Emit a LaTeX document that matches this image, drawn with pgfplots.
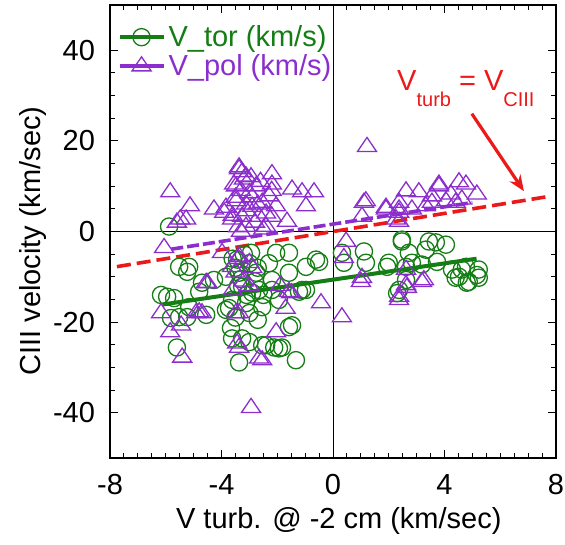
\documentclass[border=0pt]{standalone}
\usepackage{pgfplots}
\pgfplotsset{compat=1.18}
\usetikzlibrary{arrows.meta}
\usepackage{fontspec}
\setmainfont{Liberation Sans}
\definecolor{torc}{RGB}{20,125,20}
\definecolor{polc}{RGB}{140,45,205}
\definecolor{redc}{RGB}{235,25,25}

\pgfplotstableread{
x y
-5.88 1.1
-5.52 -7.8
-5.16 -7.8
-5.23 -8.9
-6.17 -14.0
-5.95 -14.4
-5.70 -14.7
-4.70 -11.3
-4.27 -10.7
-3.84 -10.0
-3.44 -6.2
-2.94 -4.7
-2.04 -4.7
-1.58 -4.7
-0.97 -7.8
-0.50 -6.7
-1.58 -9.1
-2.19 -10.7
-2.76 -9.1
-3.37 -9.1
-3.26 -12.2
-2.65 -12.9
-2.19 -12.9
-0.97 -12.9
-3.62 -15.1
-3.12 -15.8
-2.54 -16.7
-1.94 -15.1
-5.16 -16.7
-5.52 -18.9
-5.81 -19.1
-5.60 -25.6
-4.55 -18.4
-3.84 -17.3
-3.66 -21.3
-3.62 -23.6
-3.26 -23.6
-3.00 -24.4
-2.54 -25.1
-1.94 -25.8
-1.58 -21.1
-1.33 -28.4
-3.37 -28.9
-4.80 -13.3
-5.23 -18.9
-3.73 -16.9
-1.47 -20.7
-1.83 -25.6
-2.11 -25.6
-2.40 -25.1
-1.11 -12.9
-1.22 -13.3
-0.61 -6.2
0.32 -4.7
1.11 -4.4
1.18 -6.9
0.39 -6.9
1.94 -7.8
2.47 -2.2
2.72 -4.7
2.62 -7.8
2.37 -12.9
2.62 -10.7
3.19 -7.3
3.44 -2.2
3.69 -2.4
4.05 -2.9
3.73 -6.7
4.27 -8.4
4.62 -8.4
4.87 -11.1
5.16 -9.6
4.52 -10.0
2.47 -1.8
3.33 -4.0
2.00 -6.9
2.83 -6.9
4.77 -7.8
5.23 -8.4
2.30 -13.6
4.40 -10.2
4.80 -11.3
5.23 -10.2
-3.50 -8.0
-3.30 -10.5
-3.00 -7.0
-2.80 -11.0
-3.40 -12.0
-3.10 -14.0
-2.70 -8.0
-3.60 -6.0
-2.90 -13.5
-3.20 -5.0
-2.30 -7.0
-2.50 -14.0
-3.50 -19.0
-2.70 -19.5
-3.00 -18.0
}\tortable

\pgfplotstableread{
x y
1.22 18.7
-5.84 8.7
-5.13 5.6
-5.48 2.7
-5.60 2.0
-4.27 4.9
-6.06 -3.6
-3.37 13.8
-3.26 13.1
-2.94 12.0
-2.19 12.7
-2.19 10.4
-3.55 10.4
-2.76 10.0
-1.47 9.3
-1.11 8.7
-0.68 8.7
-0.97 5.6
-3.84 5.3
-3.12 6.0
-2.54 6.4
-2.04 5.6
-3.62 2.7
-3.26 3.3
-2.65 3.3
-2.19 3.3
-1.65 2.2
-2.40 1.1
-3.12 1.1
-3.48 6.7
-2.90 7.6
-2.29 7.8
-3.98 -4.7
-3.37 -5.5
-3.00 -6.9
-3.62 -7.8
-4.50 -11.4
-1.50 -13.6
-0.43 -15.8
-6.17 -18.0
-4.80 -17.8
-5.84 -22.2
-5.45 -20.7
-5.41 -27.8
-4.91 -18.0
-4.70 -18.0
-3.48 -18.0
-3.44 -24.7
-2.65 -28.0
-2.04 -22.2
-2.94 -38.9
0.32 -18.9
0.47 -2.2
0.39 -5.8
1.04 -10.2
2.37 -14.4
2.62 -11.8
3.26 -10.7
2.62 -8.4
1.11 6.4
1.90 4.9
1.04 3.3
2.37 6.4
3.55 6.4
4.40 6.4
2.26 2.7
1.18 6.7
-3.37 14.2
-3.12 12.2
-3.48 10.0
-3.90 4.2
-5.27 2.7
2.62 8.9
3.08 8.7
3.80 10.4
4.52 10.9
4.77 10.4
5.16 8.2
4.23 8.2
3.55 7.8
2.37 4.9
3.33 5.6
4.05 6.7
4.62 7.1
2.83 4.9
2.37 2.2
3.80 10.0
1.90 5.3
2.37 4.2
-2.54 -28.4
-1.58 -13.3
1.00 -11.1
2.37 -15.1
2.65 -12.4
3.19 -11.1
-4.55 -11.3
-3.37 -18.0
-3.37 -25.6
-3.30 9.0
-3.00 8.5
-2.70 6.0
-3.50 7.5
-2.40 4.0
-3.10 4.5
-2.80 2.0
-3.40 1.0
-2.20 9.0
-2.60 11.0
-3.20 11.5
-2.90 5.5
-3.60 3.5
-3.30 0.0
-2.50 0.5
-3.50 -9.0
-3.20 -11.0
-2.90 -8.0
-3.40 -6.0
-3.00 -12.0
-3.60 -13.0
-1.90 -12.0
-1.70 -17.0
}\poltable

\begin{document}
\begin{tikzpicture}
\begin{axis}[
  name=ax, scale only axis, width=223pt, height=226.5pt,
  xmin=-8, xmax=8, ymin=-50, ymax=50,
  xtick={-8,-4,0,4,8}, xticklabels={-8,-4,0,4,8},
  ytick={-40,-20,0,20,40}, yticklabels={-40,-20,0,20,40},
  minor x tick num=7, minor y tick num=3,
  tick align=inside, major tick length=4pt, minor tick length=2.5pt,
  axis line style={line width=0.75pt},
  every tick/.style={black, line width=0.5pt},
  tick label style={font=\fontsize{14.5}{17}\selectfont},
  xticklabel style={yshift=-4.5pt},
  yticklabel style={xshift=-4pt},
  label style={font=\fontsize{14.5}{17}\selectfont},
  xlabel={V turb. @ -2 cm (km/sec)},
  ylabel={CIII velocity (km/sec)},
  xlabel style={at={(axis description cs:0.513,0)}, anchor=base, yshift=-35pt},
  ylabel style={at={(axis description cs:-0.172,0.479)}, anchor=center},
  legend style={at={(axis description cs:0.016,0.963)}, anchor=north west,
    draw=none, fill=none, font=\fontsize{14.5}{17}\selectfont,
    row sep=-0.5pt, inner sep=0pt, nodes={inner sep=1.5pt}},
  legend cell align=left,
  legend image code/.code={\draw[mark repeat=2,mark phase=2] plot coordinates {(0pt,0pt) (11pt,0pt) (22pt,0pt)};},
]
\addlegendimage{torc, line width=2pt, mark=o, mark size=4.3pt, mark options={solid, line width=0.65pt}}
\addlegendentry{\textcolor{torc}{V\_tor (km/s)}}
\addlegendimage{polc, line width=2pt, mark=triangle, mark size=5.5pt, mark options={solid, line width=0.65pt, yscale=0.85}}
\addlegendentry{\textcolor{polc}{V\_pol (km/s)}}

\addplot[black, line width=0.5pt, forget plot] coordinates {(0,-50) (0,50)};
\addplot[black, line width=0.5pt, forget plot] coordinates {(-8,0) (8,0)};

\addplot[only marks, mark=o, torc, mark size=4.3pt, mark options={line width=0.65pt}, forget plot] table {\tortable};
\addplot[only marks, mark=triangle, polc, mark size=5.5pt, mark options={line width=0.65pt, yscale=0.85}, forget plot] table {\poltable};

\addplot[torc, line width=2pt, forget plot] coordinates {(-6.1,-16.1) (5.15,-6.0)};
\addplot[polc, line width=1.8pt, dash pattern=on 6pt off 2pt, forget plot] coordinates {(-5.8,-3.9) (5.0,6.4)};
\addplot[redc, line width=1.8pt, dash pattern=on 7pt off 3pt, forget plot] coordinates {(-7.75,-7.75) (7.75,7.75)};

\node[anchor=base west, text=redc, font=\fontsize{14.5}{17}\selectfont, inner sep=0pt] at (axis cs:2.29,31.1)
  {V\raisebox{-8pt}{\fontsize{10}{12}\selectfont turb} = V\raisebox{-8pt}{\fontsize{10}{12}\selectfont CIII}};
\draw[redc, line width=1.6pt, -{Stealth[length=8pt,width=6.5pt]}] (axis cs:4.98,26) -- (axis cs:6.85,8.9);
\end{axis}
\pgfresetboundingbox
\path[use as bounding box] ([shift={(-55pt,-43pt)}]ax.south west) rectangle ([shift={(4.5pt,2.5pt)}]ax.north east);
\end{tikzpicture}
\end{document}
